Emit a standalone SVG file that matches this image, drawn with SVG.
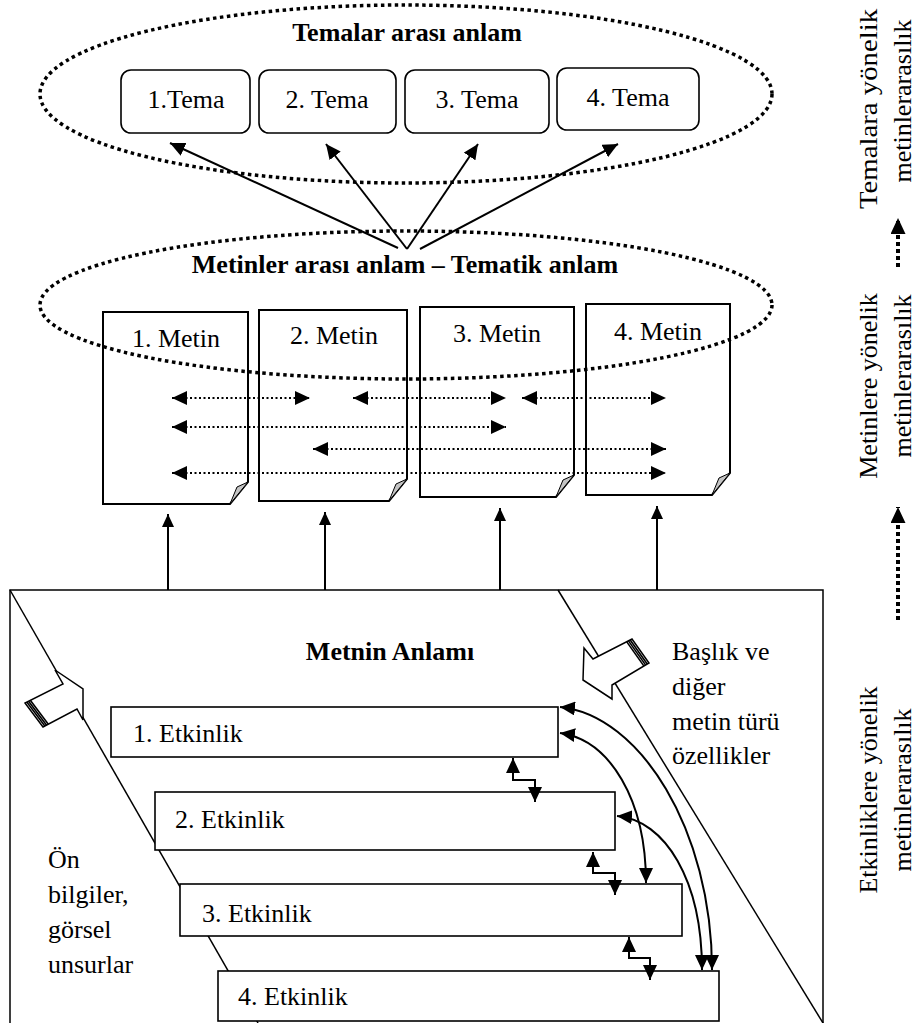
<svg xmlns="http://www.w3.org/2000/svg" width="920" height="1023" viewBox="0 0 920 1023" font-family="'Liberation Serif', 'Times New Roman', serif">
<style>
text{font-family:'Liberation Serif', serif;font-size:26px;fill:#000}
.b{font-weight:bold}
.m{text-anchor:middle}
.ln{fill:none;stroke:#000;stroke-width:1.5}
.ar{fill:none;stroke:#000;stroke-width:2}
.dot{fill:none;stroke:#000;stroke-width:2;stroke-dasharray:2 2.5}
.ell{fill:none;stroke:#000;stroke-width:3.5;stroke-dasharray:3.5 3.5}
.doc{fill:#fff;stroke:#000;stroke-width:2}
.fold{fill:#c4c4c4;stroke:#000;stroke-width:1}
.tema{fill:#fff;stroke:#000;stroke-width:1.6}
.box{fill:#fff;stroke:#000;stroke-width:1.6}
.blk{fill:#fff;stroke:#000;stroke-width:1.5}
.str{stroke:#000;stroke-width:1.6}
.rdot{fill:none;stroke:#000;stroke-width:4;stroke-dasharray:4 3}
</style>
<defs>
<marker id="ah" viewBox="0 0 15 14" markerWidth="15" markerHeight="14" refX="15" refY="7" orient="auto-start-reverse" markerUnits="userSpaceOnUse"><path d="M0,0 L15,7 L0,14 z" fill="#000"/></marker>
<marker id="ahs" viewBox="0 0 13 12" markerWidth="13" markerHeight="12" refX="13" refY="6" orient="auto-start-reverse" markerUnits="userSpaceOnUse"><path d="M0,0 L13,6 L0,12 z" fill="#000"/></marker>
<marker id="ahr" viewBox="0 0 16 15" markerWidth="16" markerHeight="15" refX="16" refY="7.5" orient="auto" markerUnits="userSpaceOnUse"><path d="M0,0 L16,7.5 L0,15 z" fill="#000"/></marker>
</defs>

<!-- Themes layer -->
<g id="ellipse-temalar"><ellipse class="ell" cx="406" cy="94" rx="366" ry="89"/></g>
<text class="b m" x="407" y="41">Temalar arası anlam</text>
<g id="tema1"><rect class="tema" x="121" y="70" width="129" height="63" rx="10"/><text class="m" x="186" y="108">1.Tema</text></g>
<g id="tema2"><rect class="tema" x="259" y="70" width="137" height="63" rx="10"/><text class="m" x="327" y="108">2. Tema</text></g>
<g id="tema3"><rect class="tema" x="405" y="70" width="144" height="63" rx="10"/><text class="m" x="477" y="108">3. Tema</text></g>
<g id="tema4"><rect class="tema" x="557" y="68" width="142" height="62" rx="10"/><text class="m" x="628" y="106">4. Tema</text></g>

<!-- Documents -->
<g id="metin1"><path class="doc" d="M103,312 H248 V482 L230,504 H103 Z"/><path class="fold" d="M248,482 L230,504 L237,487 Z"/><text class="m" x="176" y="347">1. Metin</text></g>
<g id="metin2"><path class="doc" d="M259,310 H407 V479 L389,501 H259 Z"/><path class="fold" d="M407,479 L389,501 L396,484 Z"/><text class="m" x="334" y="344">2. Metin</text></g>
<g id="metin3"><path class="doc" d="M420,307 H574 V475 L556,497 H420 Z"/><path class="fold" d="M574,475 L556,497 L563,480 Z"/><text class="m" x="497" y="342">3. Metin</text></g>
<g id="metin4"><path class="doc" d="M586,304 H730 V473 L712,495 H586 Z"/><path class="fold" d="M730,473 L712,495 L719,478 Z"/><text class="m" x="658" y="340">4. Metin</text></g>

<g id="ellipse-metinler"><ellipse class="ell" cx="406" cy="305" rx="366" ry="74"/></g>
<text class="b m" x="405" y="273">Metinler arası anlam – Tematik anlam</text>

<!-- Big frame -->
<g id="frame">
<path class="ln" d="M10,1023 V590 H823 V1023"/>
<line class="ln" x1="10" y1="590" x2="258" y2="1023"/>
<line class="ln" x1="558" y1="590" x2="823" y2="1023"/>
</g>
<g id="blockarrow-left">
<polygon class="blk" points="55,670 83,689 83,720 77,709 43,727 25,703 63,684"/>
<line class="str" x1="26.8" y1="702.1" x2="44.8" y2="726.1"/>
<line class="str" x1="28.6" y1="701.2" x2="46.6" y2="725.2"/>
<line class="str" x1="30.3" y1="700.3" x2="48.3" y2="724.3"/>
</g>
<g id="blockarrow-right">
<polygon class="blk" points="584,648 593,659 632,639 649,663 612,685 612,699 583,680"/>
<line class="str" x1="630.2" y1="640" x2="647.2" y2="664"/>
<line class="str" x1="628.5" y1="640.9" x2="645.5" y2="664.9"/>
<line class="str" x1="626.8" y1="641.9" x2="643.8" y2="665.9"/>
</g>
<text class="b m" x="390" y="660">Metnin Anlamı</text>
<text x="672" y="660">Başlık ve</text>
<text x="672" y="695">diğer</text>
<text x="672" y="730">metin türü</text>
<text x="672" y="764">özellikler</text>
<text x="48" y="868">Ön</text>
<text x="48" y="903">bilgiler,</text>
<text x="48" y="938">görsel</text>
<text x="48" y="973">unsurlar</text>

<!-- Activities -->
<g id="etkinlik1"><rect class="box" x="111" y="707" width="447" height="50"/><text x="133" y="742">1. Etkinlik</text></g>
<g id="etkinlik2"><rect class="box" x="155" y="792" width="460" height="58"/><text x="175" y="828">2. Etkinlik</text></g>
<g id="etkinlik3"><rect class="box" x="180" y="884" width="502" height="52"/><text x="202" y="922">3. Etkinlik</text></g>
<g id="etkinlik4"><rect class="box" x="218" y="971" width="501" height="50"/><text x="238" y="1005">4. Etkinlik</text></g>

<!-- Connectors -->
<g id="connectors">
<line class="ar" x1="398" y1="248" x2="170" y2="143" marker-end="url(#ah)"/>
<line class="ar" x1="407" y1="249" x2="326" y2="144" marker-end="url(#ah)"/>
<line class="ar" x1="407" y1="249" x2="478" y2="144" marker-end="url(#ah)"/>
<line class="ar" x1="420" y1="249" x2="618" y2="144" marker-end="url(#ah)"/>

<line class="dot" x1="172" y1="398" x2="310" y2="398" marker-start="url(#ah)" marker-end="url(#ah)"/>
<line class="dot" x1="353" y1="398" x2="506" y2="398" marker-start="url(#ah)" marker-end="url(#ah)"/>
<line class="dot" x1="522" y1="398" x2="666" y2="398" marker-start="url(#ah)" marker-end="url(#ah)"/>
<line class="dot" x1="172" y1="427" x2="506" y2="427" marker-start="url(#ah)" marker-end="url(#ah)"/>
<line class="dot" x1="313" y1="449" x2="666" y2="449" marker-start="url(#ah)" marker-end="url(#ah)"/>
<line class="dot" x1="172" y1="473" x2="666" y2="473" marker-start="url(#ah)" marker-end="url(#ah)"/>

<line class="ar" x1="168" y1="590" x2="168" y2="514" marker-end="url(#ahs)"/>
<line class="ar" x1="325" y1="590" x2="325" y2="512" marker-end="url(#ahs)"/>
<line class="ar" x1="500" y1="590" x2="500" y2="508" marker-end="url(#ahs)"/>
<line class="ar" x1="657" y1="590" x2="657" y2="506" marker-end="url(#ahs)"/>

<path class="ar" d="M513,758 V780 H535 V802" marker-start="url(#ah)" marker-end="url(#ah)"/>
<path class="ar" d="M593,852 V873 H615 V895" marker-start="url(#ah)" marker-end="url(#ah)"/>
<path class="ar" d="M629,937 V958 H650 V980" marker-start="url(#ah)" marker-end="url(#ah)"/>

<path class="ar" d="M560,707 C640,715 712,830 712,970" marker-start="url(#ah)" marker-end="url(#ah)"/>
<path class="ar" d="M560,733 C610,740 646,800 646,883" marker-start="url(#ah)" marker-end="url(#ah)"/>
<path class="ar" d="M617,816 C665,820 702,880 702,970" marker-start="url(#ah)" marker-end="url(#ah)"/>

<line class="rdot" x1="898" y1="267" x2="898" y2="218" marker-end="url(#ahr)"/>
<line class="rdot" x1="898" y1="620" x2="898" y2="507" marker-end="url(#ahr)"/>
</g>

<!-- Right legend -->
<text class="m" transform="translate(877,109) rotate(-90)" textLength="200" lengthAdjust="spacingAndGlyphs">Temalara yönelik</text>
<text class="m" transform="translate(911,101) rotate(-90)">metinlerarasılık</text>
<text class="m" transform="translate(877,386) rotate(-90)">Metinlere yönelik</text>
<text class="m" transform="translate(911,376) rotate(-90)">metinlerarasılık</text>
<text class="m" transform="translate(877,790) rotate(-90)">Etkinliklere yönelik</text>
<text class="m" transform="translate(911,790) rotate(-90)">metinlerarasılık</text>
</svg>
